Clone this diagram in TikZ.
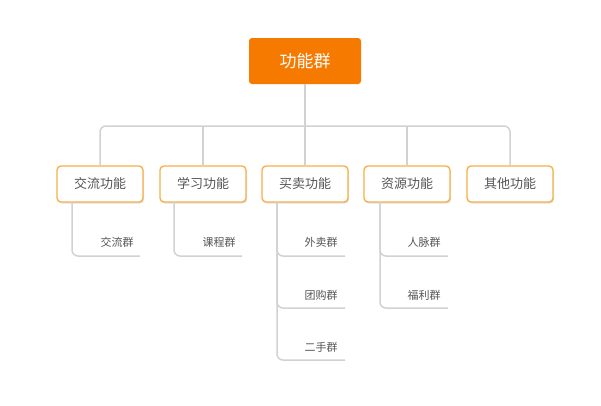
\documentclass[tikz,border=0pt]{standalone}
\usepackage{fontspec}
\setmainfont{Noto Sans CJK SC}
\usetikzlibrary{shadows,calc}
\definecolor{rootor}{HTML}{F77A00}
\definecolor{boxor}{HTML}{F7B04A}
\definecolor{linegr}{HTML}{D2D2D2}
\definecolor{txgr}{HTML}{555555}
\tikzset{
  rootbox/.style={draw=none, fill=rootor, rounded corners=3pt, minimum width=112pt, minimum height=46pt, text=white, font=\fontsize{17}{20}\selectfont, inner sep=0pt},
  catbox/.style={draw=boxor, line width=1.4pt, fill=white, rounded corners=4pt, minimum width=86pt, minimum height=36pt, text=txgr, font=\fontsize{13}{16}\selectfont, inner sep=0pt, drop shadow={shadow xshift=1pt, shadow yshift=-1.5pt, opacity=0.12, fill=black}},
  leaftext/.style={text=txgr, font=\fontsize{11}{13}\selectfont, inner sep=0pt},
  conn/.style={draw=linegr, line width=1.5pt, rounded corners=6pt},
}
\begin{document}
\begin{tikzpicture}[x=1pt,y=-1pt]
\useasboundingbox[fill=white] (0,0) rectangle (601,405);
\node[rootbox] (root) at (305,61) {功能群};
\coordinate (bar) at (305,126);
\node[catbox] (c1) at (100,184) {交流功能};
\node[catbox] (c2) at (203,184) {学习功能};
\node[catbox] (c3) at (305,184) {买卖功能};
\node[catbox] (c4) at (407,184) {资源功能};
\node[catbox] (c5) at (510,184) {其他功能};
% top connectors
\begin{scope}[on background layer/.try]
\end{scope}
\draw[conn] (root.south) -- (c3.north);
\draw[conn] (c1.north) |- (c5 |- bar) -- (c5.north);
\draw[conn] (c2.north) -- (c2 |- bar);
\draw[conn] (c4.north) -- (c4 |- bar);
% leaves
\coordinate (s1) at (72,202);
\coordinate (s2) at (174,202);
\coordinate (s3) at (277,202);
\coordinate (s4) at (380,202);
\coordinate (e1) at (140,256);
\coordinate (e2) at (242,256);
\coordinate (e3a) at (345,256);
\coordinate (e3b) at (345,308);
\coordinate (e3c) at (345,360);
\coordinate (e4a) at (448,256);
\coordinate (e4b) at (448,308);
\draw[conn] (s1) |- (e1);
\draw[conn] (s2) |- (e2);
\draw[conn] (s3) |- (e3a);
\draw[conn] (s3) |- (e3b);
\draw[conn] (s3) |- (e3c);
\draw[conn] (s4) |- (e4a);
\draw[conn] (s4) |- (e4b);
\node[leaftext] (l1) at (117,242) {交流群};
\node[leaftext] (l2) at (219,242) {课程群};
\node[leaftext] (l3a) at (321,242) {外卖群};
\node[leaftext] (l3b) at (321,295) {团购群};
\node[leaftext] (l3c) at (321,347) {二手群};
\node[leaftext] (l4a) at (424,242) {人脉群};
\node[leaftext] (l4b) at (424,295) {福利群};
\end{tikzpicture}
\end{document}
